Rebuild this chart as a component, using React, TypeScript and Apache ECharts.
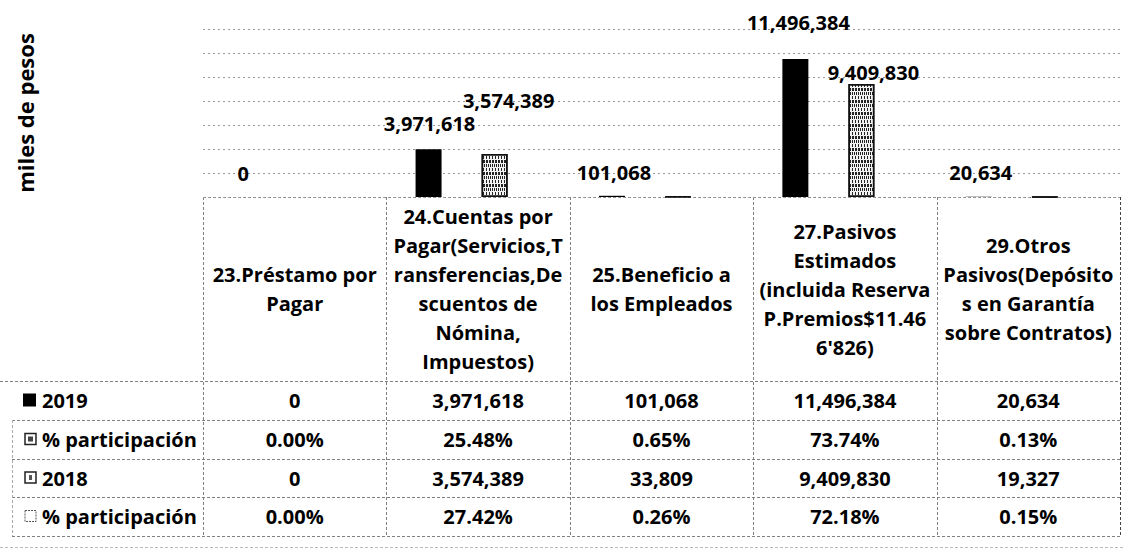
import React, { useEffect, useRef } from "react";
import * as echarts from "echarts";

// ---------- data ----------
const categories = [
  "23.Préstamo por\nPagar",
  "24.Cuentas por\nPagar(Servicios,T\nransferencias,De\nscuentos de\nNómina,\nImpuestos)",
  "25.Beneficio a\nlos Empleados",
  "27.Pasivos\nEstimados\n(incluida Reserva\nP.Premios$11.46\n6'826)",
  "29.Otros\nPasivos(Depósito\ns en Garantía\nsobre Contratos)",
];
const values2019 = [0, 3971618, 101068, 11496384, 20634];
const share2019 = [0.0, 25.48, 0.65, 73.74, 0.13];
const values2018 = [0, 3574389, 33809, 9409830, 19327];
const share2018 = [0.0, 27.42, 0.26, 72.18, 0.15];
const rowLabels = ["2019", "% participación", "2018", "% participación"];
const show2018Label = [false, true, false, true, false];
const yAxisTitle = "miles de pesos";
const yMax = 14000000;
const yStep = 2000000;

// ---------- layout / style ----------
const W = 1125;
const H = 551;
const FONT = "'Open Sans', 'Noto Sans', sans-serif";
const FS = 20;
const plotTop = 29;
const baseY = 197;
const tableLeft = 203;
const tableRight = 1120;
const rowLines = [381, 420, 459, 497, 536];
// label nudges [dx, dy] relative to bar top centre
const nudge2019 = [[-2, -24], [1, -26], [2, -23], [3, -37], [2, -24]];
const nudge2018 = [[0, -24], [14, -54], [0, -24], [12, -12], [0, -24]];

const fmtInt = (n: number) => n.toLocaleString("en-US");
const fmtPct = (p: number) => p.toFixed(2) + "%";

const textStyleBase = { fontFamily: FONT, fontSize: FS, fontWeight: "bold" as const, color: "#000" };

function buildOption() {
  const colW = (tableRight - tableLeft) / categories.length;
  const lineStyle = { stroke: "#808080", lineWidth: 1, lineDash: [3, 2] };
  const graphics: any[] = [];
  const lastRow = rowLines[rowLines.length - 1];
  // horizontal table lines
  graphics.push({ type: "line", shape: { x1: tableLeft, y1: baseY + 0.5, x2: tableRight, y2: baseY + 0.5 }, style: lineStyle, silent: true });
  rowLines.forEach((y, i) => {
    graphics.push({ type: "line", shape: { x1: i === 0 ? 0 : 12, y1: y + 0.5, x2: tableRight, y2: y + 0.5 }, style: lineStyle, silent: true });
  });
  // vertical table lines
  for (let i = 0; i <= categories.length; i++) {
    const x = Math.round(tableLeft + i * colW) + 0.5;
    graphics.push({
      type: "line",
      shape: { x1: x, y1: baseY, x2: x, y2: lastRow },
      style: { ...lineStyle, stroke: i === categories.length ? "#444" : "#808080" },
      silent: true,
    });
  }
  graphics.push({ type: "line", shape: { x1: 12.5, y1: rowLines[1], x2: 12.5, y2: lastRow }, style: { ...lineStyle, stroke: "#aaa" }, silent: true });
  graphics.push({ type: "line", shape: { x1: 0, y1: H - 3.5, x2: W, y2: H - 3.5 }, style: { ...lineStyle, stroke: "#bbb" }, silent: true });

  // row labels with legend keys
  rowLabels.forEach((lab, r) => {
    const cy = (rowLines[r] + rowLines[r + 1]) / 2;
    if (r === 0) {
      graphics.push({ type: "rect", shape: { x: 23, y: cy - 7, width: 13, height: 13 }, style: { fill: "#000" } });
    } else {
      const k = { x: 25, y: cy - 6, width: 11, height: 11 };
      if (r === 1) {
        graphics.push({ type: "rect", shape: k, style: { fill: "#fff", stroke: "#222", lineWidth: 1.5 } });
        graphics.push({ type: "rect", shape: { x: k.x + 3, y: k.y + 3, width: 5, height: 5 }, style: { fill: "#444" } });
      } else if (r === 2) {
        graphics.push({ type: "rect", shape: k, style: { fill: "#fff", stroke: "#222", lineWidth: 1.5 } });
        graphics.push({ type: "rect", shape: { x: k.x + 4, y: k.y + 3, width: 3, height: 5 }, style: { fill: "#555" } });
      } else {
        graphics.push({ type: "rect", shape: k, style: { fill: "#fff", stroke: "#555", lineWidth: 1, lineDash: [2, 1] } });
      }
    }
    graphics.push({
      type: "text",
      x: 42,
      y: cy,
      style: { text: lab, font: `bold ${FS}px ${FONT}`, fill: "#000", textVerticalAlign: "middle", textAlign: "left" },
    });
  });

  const rowAxis = (data: string[], r: number) => ({
    gridIndex: 1,
    type: "category",
    data,
    position: "bottom",
    offset: (rowLines[r] + rowLines[r + 1]) / 2 - (baseY + 1),
    axisLine: { show: false },
    axisTick: { show: false },
    splitLine: { show: false },
    axisLabel: { interval: 0, margin: 0, verticalAlign: "middle", align: "center", ...textStyleBase },
  });

  const labelBase = {
    show: true,
    ...textStyleBase,
    align: "center",
    verticalAlign: "middle",
    formatter: (p: any) => fmtInt(p.value),
  };

  const barCommon = { type: "bar", xAxisIndex: 0, yAxisIndex: 0, barWidth: 26, barGap: "27%" };

  return {
    animation: false,
    backgroundColor: "#fff",
    textStyle: { fontFamily: FONT },
    grid: [
      { left: tableLeft, right: W - tableRight, top: plotTop, height: baseY - plotTop, outerBoundsMode: "none", containLabel: false },
      { left: tableLeft, right: W - tableRight, top: baseY, height: 1, outerBoundsMode: "none", containLabel: false },
    ],
    xAxis: [
      {
        gridIndex: 0,
        type: "category",
        data: categories,
        axisLine: { show: false },
        axisTick: { show: false },
        axisLabel: { show: false },
        splitLine: { show: false },
      },
      {
        gridIndex: 1,
        type: "category",
        data: categories,
        position: "bottom",
        axisLine: { show: false },
        axisTick: { show: false },
        splitLine: { show: false },
        axisLabel: {
          interval: 0,
          margin: (rowLines[0] - baseY) / 2 - 1,
          verticalAlign: "middle",
          align: "center",
          lineHeight: 29,
          ...textStyleBase,
        },
      },
      rowAxis(values2019.map(fmtInt), 0),
      rowAxis(share2019.map(fmtPct), 1),
      rowAxis(values2018.map(fmtInt), 2),
      rowAxis(share2018.map(fmtPct), 3),
    ],
    yAxis: [
      {
        gridIndex: 0,
        type: "value",
        min: 0,
        max: yMax,
        interval: yStep,
        axisLine: { show: false },
        axisTick: { show: false },
        axisLabel: { show: false },
        splitLine: { show: true, lineStyle: { color: "#9a9a9a", width: 1, type: [2, 3] } },
        name: yAxisTitle,
        nameLocation: "middle",
        nameRotate: 90,
        nameGap: 167,
        nameTextStyle: { ...textStyleBase, fontSize: 22 },
      },
      { gridIndex: 1, type: "value", show: false, splitLine: { show: false } },
    ],
    series: [
      {
        ...barCommon,
        name: "2019",
        itemStyle: { color: "#000" },
        label: labelBase,
        data: values2019.map((v, i) => ({
          value: v,
          label: { position: ["50%", nudge2019[i][1]], offset: [nudge2019[i][0], 0] },
        })),
      },
      {
        ...barCommon,
        name: "% participación 2019",
        itemStyle: { color: "#666" },
        data: share2019.map((v) => v / 100),
      },
      {
        ...barCommon,
        name: "2018",
        itemStyle: {
          color: "#f2f2f2",
          borderColor: "#111",
          borderWidth: 1.5,
          decal: {
            symbol: "rect",
            symbolSize: 1,
            color: "rgba(0,0,0,0.85)",
            dashArrayX: [[1, 1], [1, 2], [2, 1]],
            dashArrayY: [3, 1],
            rotation: 0,
          },
        },
        label: labelBase,
        data: values2018.map((v, i) => ({
          value: v,
          itemStyle: v === 0 ? { borderWidth: 0 } : undefined,
          label: show2018Label[i]
            ? { show: true, position: ["50%", nudge2018[i][1]], offset: [nudge2018[i][0], 0] }
            : { show: false },
        })),
      },
      {
        ...barCommon,
        name: "% participación 2018",
        itemStyle: { color: "#999" },
        data: share2018.map((v) => v / 100),
      },
    ],
    graphic: graphics,
  };
}

export default function App() {
  const ref = useRef<HTMLDivElement>(null);
  useEffect(() => {
    if (!ref.current) return;
    const chart = echarts.init(ref.current, undefined, { renderer: "svg" });
    chart.setOption(buildOption() as any);
    return () => chart.dispose();
  }, []);
  return (
    <div
      ref={ref}
      style={{ position: "fixed", left: 0, top: 0, width: W, height: H, background: "#fff" }}
    />
  );
}
